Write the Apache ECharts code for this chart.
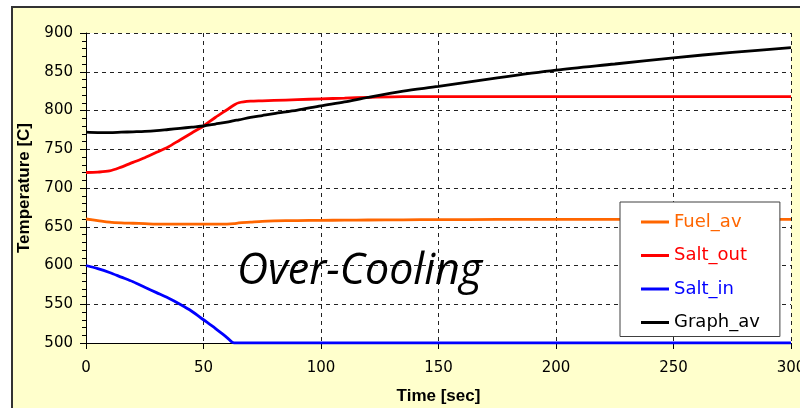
<!DOCTYPE html>
<html>
<head>
	<meta charset="utf-8"/>
	<title>Over-Cooling</title>
	<script src="https://cdn.jsdelivr.net/npm/echarts@6/dist/echarts.min.js"></script>
	<style>
		html, body { margin: 0; padding: 0; background: #fff; overflow: hidden; width: 100%; height: 100%; }
		#chart { width: 100%; height: 100%; }
	</style>
</head>
<body>
<div id="chart"></div>
<script>
    // time [sec], shared by all series
    var time = [0, 5, 10, 15, 20, 25, 30, 35, 40, 45, 50, 55, 60, 63, 65, 70, 75, 80, 90, 100,
                110, 120, 135, 150, 175, 200, 225, 250, 275, 300];
    var fuelAv = [660, 658, 656, 655, 654.5, 654, 653.5, 653.5, 653.5, 653.5, 653.5, 653.5, 653.5, 654, 655, 656, 657, 657.5, 658, 658.3,
                  658.5, 658.7, 659, 659.2, 659.4, 659.5, 659.5, 659.5, 659.5, 659.5];
    var saltOut = [720, 720.5, 722, 727, 733, 739, 746, 753, 762, 771, 780, 791, 801, 807, 810, 812, 812.5, 813, 814, 815,
                   816, 817, 818, 818, 818, 818, 818, 818, 818, 818];
    var saltIn = [600, 596, 591, 585, 579, 572, 565, 558, 550, 541, 530, 519, 507, 500, 500, 500, 500, 500, 500, 500,
                  500, 500, 500, 500, 500, 500, 500, 500, 500, 500];
    var graphAv = [772, 771.5, 771.5, 772, 772.5, 773, 774, 775.5, 777, 778.5, 780, 782.5, 785, 787, 788, 791, 793.5, 796, 800.5, 806,
                   811, 817, 825, 831, 842, 852, 860, 868, 875, 881];

    var seriesNames = ['Fuel_av', 'Salt_out', 'Salt_in', 'Graph_av'];
    var seriesColors = ['#FF6600', '#FF0000', '#0000FF', '#000000'];
    var seriesValues = [fuelAv, saltOut, saltIn, graphAv];

    function pairs(vals) {
        var out = [];
        for (var i = 0; i < time.length; i++) out.push([time[i], vals[i]]);
        return out;
    }

    var myChart = echarts.init(document.getElementById('chart'));

    var series = [];
    var legendData = [];
    for (var k = 0; k < seriesNames.length; k++) {
        series.push({
            name: seriesNames[k],
            type: 'line',
            showSymbol: false,
            smooth: 0.3,
            data: pairs(seriesValues[k]),
            lineStyle: { color: seriesColors[k], width: 2.8 },
            itemStyle: { color: seriesColors[k] }
        });
        legendData.push({ name: seriesNames[k], textStyle: { color: seriesColors[k] } });
    }

    var option = {
        animation: false,
        graphic: [
            {
                type: 'rect', z: -10,
                shape: { x: 12, y: 7, width: 800, height: 410 },
                style: { fill: '#FFFFCC', stroke: '#333', lineWidth: 2 }
            },
            {
                type: 'text', z: 10,
                style: {
                    text: 'Over-Cooling', x: 237, y: 272,
                    font: 'italic 43px "Open Sans"', fill: '#000',
                    align: 'left', verticalAlign: 'middle'
                }
            }
        ],
        grid: {
            left: 86, right: 9, top: 33, bottom: 65,
            outerBoundsMode: 'none',
            show: true, backgroundColor: '#fff', borderWidth: 0
        },
        legend: {
            orient: 'vertical',
            left: 620, top: 202,
            padding: [11, 20, 5, 21],
            itemGap: 15.5,
            itemWidth: 28, itemHeight: 3,
            icon: 'rect',
            backgroundColor: '#fff',
            borderColor: '#404040', borderWidth: 1,
            textStyle: { fontFamily: 'DejaVu Sans', fontSize: 18 },
            data: legendData
        },
        xAxis: {
            type: 'value',
            min: 0, max: 300, interval: 50,
            name: 'Time [sec]',
            nameLocation: 'middle', nameGap: 45,
            nameTextStyle: { fontFamily: 'Liberation Sans', fontWeight: 'bold', fontSize: 17, color: '#000' },
            axisLine: { lineStyle: { color: '#000', width: 1 } },
            axisTick: { length: 6, lineStyle: { color: '#000' } },
            axisLabel: { margin: 18, color: '#000', fontFamily: 'DejaVu Sans', fontSize: 15 },
            splitLine: { lineStyle: { color: '#222', type: [4, 4], width: 1 } }
        },
        yAxis: {
            type: 'value',
            min: 500, max: 900, interval: 50,
            name: 'Temperature [C]',
            nameLocation: 'middle', nameGap: 53,
            nameTextStyle: { fontFamily: 'Liberation Sans', fontWeight: 'bold', fontSize: 17, color: '#000' },
            axisLine: { show: true, lineStyle: { color: '#000', width: 1 } },
            axisTick: { show: true, length: 6, lineStyle: { color: '#000' } },
            minorTick: { show: true, splitNumber: 5, length: 4, lineStyle: { color: '#000' } },
            axisLabel: { margin: 13, color: '#000', fontFamily: 'DejaVu Sans', fontSize: 15 },
            splitLine: { lineStyle: { color: '#222', type: [4, 4], width: 1 } }
        },
        series: series
    };

    myChart.setOption(option);
</script>
</body>
</html>
